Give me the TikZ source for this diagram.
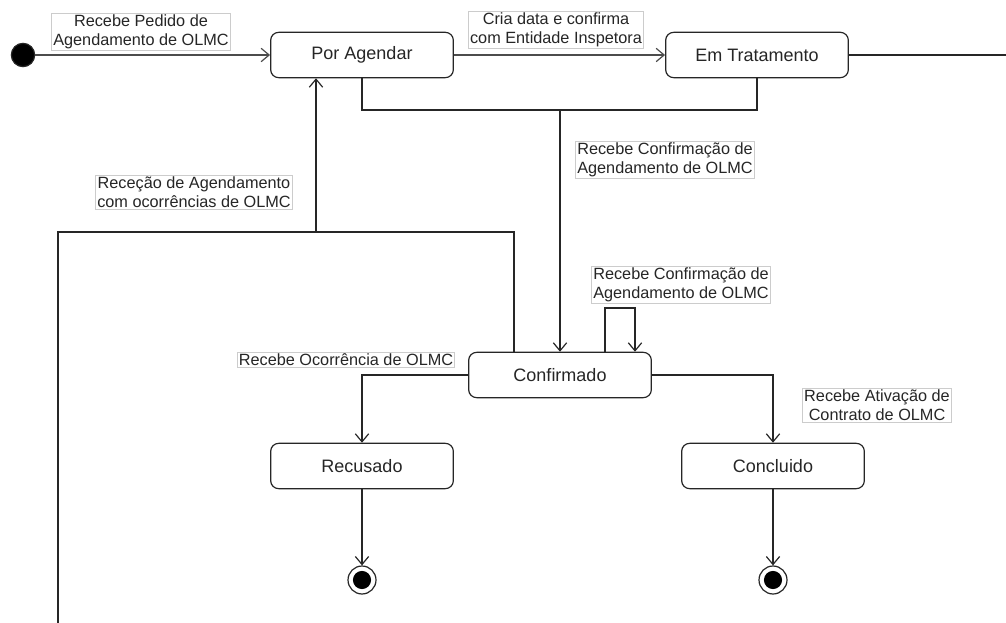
\documentclass[tikz,border=0pt]{standalone}
\usepackage{fontspec}
\setmainfont{Liberation Sans}
\usetikzlibrary{arrows.meta}
\begin{document}
\begin{tikzpicture}[x=0.75pt,y=-0.75pt,
  line width=0.9pt, draw=black!85,
  arr/.style={-{Straight Barb[length=6pt,width=10pt,line width=0.9pt]}},
  state/.style={draw=black!85, rounded corners=6pt, minimum width=137pt, minimum height=34pt,
    inner sep=0pt, font=\fontsize{13.5}{15}\selectfont, text=black!85},
  evlabel/.style={draw=black!20, line width=0.5pt, fill=white, inner sep=1.2pt, align=center,
    font=\fontsize{12.2}{14.2}\selectfont, text=black!85},
  startdot/.style={circle, fill=black, draw=black!85, minimum size=17.5pt, inner sep=0pt},
  enddot/.style={circle, draw=black!85, line width=0.9pt, fill=white, minimum size=21pt, inner sep=0pt,
    path picture={\fill[black] (path picture bounding box.center) circle (6.8pt);}}]
\useasboundingbox (0,0) rectangle (1006,623);

% states
\node[startdot] (init) at (23,55) {};
\node[state] (pa) at (362,55) {Por Agendar};
\node[state] (et) at (757,55) {Em Tratamento};
\node[state] (conf) at (560,375) {Confirmado};
\node[state] (rec) at (362,466) {Recusado};
\node[state] (con) at (773,466) {Concluido};
\node[enddot] (f1) at (362,580) {};
\node[enddot] (f2) at (773,580) {};

% routing points
\coordinate (exitR) at (1006,55);
\coordinate (j) at (560,110);
\coordinate (k) at (514,232);
\coordinate (m) at (316,232);
\coordinate (exitB) at (58,623);
\coordinate (l1) at (605,308);
\coordinate (l2) at (635,308);

% transitions
\draw[arr, draw=black!70, line width=1.2pt] (init) -- (pa);
\draw[arr, draw=black!70, line width=1.2pt] (pa) -- (et);
\draw (et) -- (exitR);
\draw (pa.south) |- (j) -| (et.south);
\draw[arr] (j) -- (conf.north);
\draw (conf.north -| k) |- (exitB |- k) -- (exitB);
\draw[arr] (m) -- (m |- pa.south);
\draw[arr] (conf.north -| l1) |- (l2) -- (l2 |- conf.north);
\draw[arr] (conf.west) -| (rec.north);
\draw[arr] (conf.east) -| (con.north);
\draw[arr] (rec) -- (f1);
\draw[arr] (con) -- (f2);

% event labels
\node[evlabel] (e1) at (141,32) {Recebe Pedido de\\Agendamento de OLMC};
\node[evlabel] (e2) at (556,30) {Cria data e confirma\\com Entidade Inspetora};
\node[evlabel] (e3) at (665,160) {Recebe Confirmação de\\Agendamento de OLMC};
\node[evlabel] (e4) at (194,192) {Receção de Agendamento\\com ocorrências de OLMC};
\node[evlabel] (e5) at (681,285) {Recebe Confirmação de\\Agendamento de OLMC};
\node[evlabel] (e6) at (346,360) {Recebe Ocorrência de OLMC};
\node[evlabel] (e7) at (877,405) {Recebe Ativação de\\Contrato de OLMC};
\end{tikzpicture}
\end{document}
